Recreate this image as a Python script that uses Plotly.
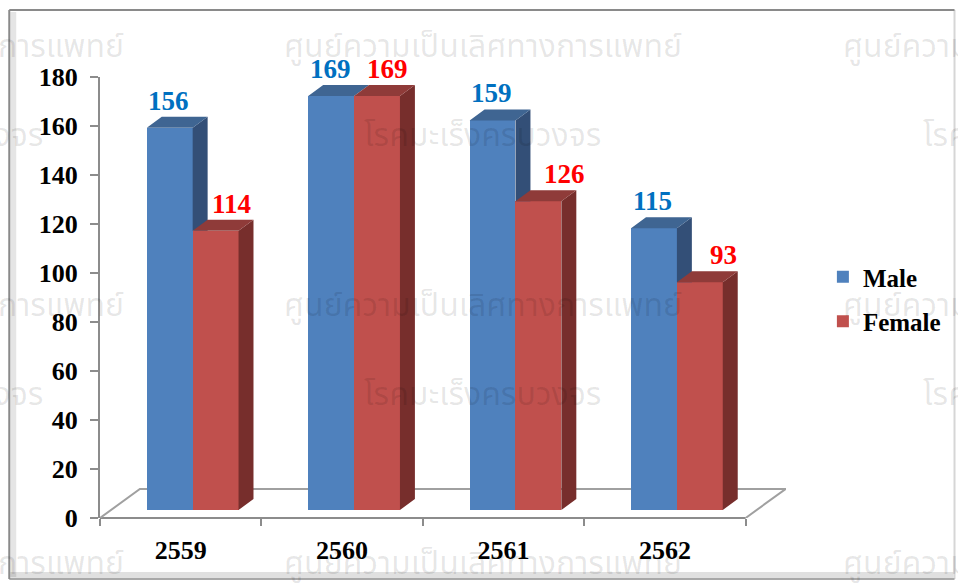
import plotly.graph_objects as go

# ---- data -------------------------------------------------------------
years = ["2559", "2560", "2561", "2562"]
male = [156, 169, 159, 115]
female = [114, 169, 126, 93]
series_names = ["Male", "Female"]
y_ticks = [0, 20, 40, 60, 80, 100, 120, 140, 160, 180]
watermark_line1 = "ศูนย์ความเป็นเลิศทางการแพทย์"
watermark_line2 = "โรคมะเร็งครบวงจร"

# ---- geometry -----------------------------------------------------------
W, H = 958, 583
L, R, T, B = 100, 788, 77, 518          # plot area in pixels
X0, X1 = -0.5, 3.75                     # extra room on the right for the floor depth
Y0, Y1 = 0, 180
UX = (R - L) / (X1 - X0)                # pixels per x unit
UY = (B - T) / (Y1 - Y0)                # pixels per y unit

BAR_W = 46 / UX
SHIFT = 12 / UX                          # bars sit slightly back/right on the floor
LIFT = 8 / UY
DX, DY = 15 / UX, 11 / UY                # bar depth
FLOOR_DX, FLOOR_DY = 40 / UX, 29 / UY    # floor depth

GREY = "#8c8c8c"
SERIF = "Liberation Serif, Times New Roman, serif"
THAI = "Noto Sans Thai, Noto Sans Thai Looped, Loma, Garuda, Tlwg Typo, Tahoma, sans-serif"

FRONT = {"Male": "#4F81BD", "Female": "#C0504D"}
TOP = {"Male": "#3F6592", "Female": "#8F3B39"}
SIDE = {"Male": "#334F77", "Female": "#772E2C"}
LABEL = {"Male": "#0070C0", "Female": "#FF0000"}
LABEL_XSHIFT = {"Male": [-1, -1, -1, -1], "Female": [16, 10, 26, 24]}


def fx(px):
    return (px - L) / (R - L)


def fy(py):
    return (B - py) / (B - T)


xs = list(range(len(years)))
values = {"Male": male, "Female": female}
left_edge = {"Male": SHIFT - BAR_W, "Female": SHIFT}

fig = go.Figure()

# front faces
for name in series_names:
    fig.add_trace(go.Bar(
        x=xs, y=values[name], base=LIFT, width=BAR_W, offset=left_edge[name],
        marker=dict(color=FRONT[name], line=dict(width=0)),
        name=name, legendgroup=name, hoverinfo="skip",
    ))


def poly_trace(px, py, color):
    return go.Scatter(x=px, y=py, mode="lines", fill="toself", fillcolor=color,
                      line=dict(width=0, color=color), showlegend=False, hoverinfo="skip")


# male side faces: only the part rising above the female bar in front of it
sx, sy = [], []
for i, (m, f) in enumerate(zip(male, female)):
    if m <= f:
        continue
    xr = i + left_edge["Male"] + BAR_W
    sx += [xr, xr + DX, xr + DX, xr, xr, None]
    sy += [LIFT + f, LIFT + f, LIFT + m + DY, LIFT + m, LIFT + f, None]
fig.add_trace(poly_trace(sx, sy, SIDE["Male"]))


def top_faces(name):
    tx, ty = [], []
    for i, v in enumerate(values[name]):
        xl = i + left_edge[name]
        xr = xl + BAR_W
        yt = LIFT + v
        tx += [xl, xr, xr + DX, xl + DX, xl, None]
        ty += [yt, yt, yt + DY, yt + DY, yt, None]
    return tx, ty


tx, ty = top_faces("Male")
fig.add_trace(poly_trace(tx, ty, TOP["Male"]))

# female side faces
sx, sy = [], []
for i, f in enumerate(female):
    xr = i + left_edge["Female"] + BAR_W
    sx += [xr, xr + DX, xr + DX, xr, xr, None]
    sy += [LIFT, LIFT + DY, LIFT + f + DY, LIFT + f, LIFT, None]
fig.add_trace(poly_trace(sx, sy, SIDE["Female"]))

tx, ty = top_faces("Female")
fig.add_trace(poly_trace(tx, ty, TOP["Female"]))

annotations = []

# value labels above each bar
for name in series_names:
    for i, v in enumerate(values[name]):
        annotations.append(dict(
            x=i + left_edge[name] + BAR_W / 2, y=LIFT + v + DY, xref="x", yref="y",
            text=str(v), showarrow=False, xanchor="center", yanchor="middle",
            xshift=LABEL_XSHIFT[name][i], yshift=16,
            font=dict(family=SERIF, size=27, color=LABEL[name], weight="bold"),
        ))

# watermark tiles
for yc in (47, 306, 564):
    for xs0 in (-277, 283, 843):
        annotations.append(dict(
            x=fx(xs0), y=fy(yc), xref="paper", yref="paper", text=watermark_line1,
            showarrow=False, xanchor="left", yanchor="middle",
            font=dict(family=THAI, size=32, color="rgba(0,0,0,0.10)"),
        ))
for yc in (136, 395):
    for xs0 in (-197, 363, 923):
        annotations.append(dict(
            x=fx(xs0), y=fy(yc), xref="paper", yref="paper", text=watermark_line2,
            showarrow=False, xanchor="left", yanchor="middle",
            font=dict(family=THAI, size=32, color="rgba(0,0,0,0.10)"),
        ))

shapes = [
    # floor outline
    dict(type="path", xref="x", yref="y", layer="below",
         path=f"M {X0},0 L {X0 + FLOOR_DX},{FLOOR_DY} L {3.5 + FLOOR_DX},{FLOOR_DY} L 3.5,0",
         line=dict(color="#a0a0a0", width=2)),
    # category axis baseline
    dict(type="line", xref="paper", yref="paper", x0=0, x1=(3.5 - X0) / (X1 - X0), y0=0, y1=0,
         line=dict(color=GREY, width=2), layer="below"),
    # chart frame: soft inner shadow, dark top/left edges, faint right edge
    dict(type="line", xref="paper", yref="paper", x0=fx(13), x1=fx(13), y0=fy(12), y1=fy(577),
         line=dict(color="rgba(0,0,0,0.10)", width=6), layer="below"),
    dict(type="line", xref="paper", yref="paper", x0=fx(10), x1=fx(956), y0=fy(575), y1=fy(575),
         line=dict(color="rgba(0,0,0,0.12)", width=6), layer="below"),
    dict(type="line", xref="paper", yref="paper", x0=fx(957), x1=fx(957), y0=fy(10), y1=fy(579),
         line=dict(color="#d6d6d6", width=2), layer="below"),
    dict(type="line", xref="paper", yref="paper", x0=fx(9), x1=fx(957), y0=fy(579), y1=fy(579),
         line=dict(color="#a8a8a8", width=2), layer="below"),
    dict(type="line", xref="paper", yref="paper", x0=fx(9), x1=fx(957), y0=fy(10), y1=fy(10),
         line=dict(color="#8a8a8a", width=2), layer="below"),
    dict(type="line", xref="paper", yref="paper", x0=fx(9), x1=fx(9), y0=fy(10), y1=fy(579),
         line=dict(color="#8a8a8a", width=2), layer="below"),
]

fig.update_layout(
    width=W, height=H,
    margin=dict(l=L, r=W - R, t=T, b=H - B, pad=0),
    paper_bgcolor="white", plot_bgcolor="rgba(0,0,0,0)",
    barmode="overlay", bargap=0,
    showlegend=True,
    legend=dict(x=fx(825), y=fy(254), xanchor="left", yanchor="top",
                font=dict(family=SERIF, size=25, color="black", weight="bold"),
                bgcolor="rgba(0,0,0,0)", traceorder="grouped", tracegroupgap=9),
    xaxis=dict(range=[X0, X1], showline=False, showgrid=False, zeroline=False,
               tickmode="array", tickvals=xs, ticktext=years, ticks="",
               ticklabelstandoff=14,
               tickfont=dict(family=SERIF, size=26, color="black", weight="bold"),
               minor=dict(tickmode="array", tickvals=[-0.5, 0.5, 1.5, 2.5, 3.5], ticks="outside",
                          ticklen=7, tickwidth=2, tickcolor=GREY, showgrid=False)),
    yaxis=dict(range=[Y0, Y1], showline=True, linecolor=GREY, linewidth=2, showgrid=False,
               zeroline=False, tickmode="array", tickvals=y_ticks, ticks="outside",
               ticklen=8, tickwidth=2, tickcolor=GREY, ticklabelstandoff=7,
               tickfont=dict(family=SERIF, size=26, color="black", weight="bold")),
    annotations=annotations,
    shapes=shapes,
)

fig.write_html("out.html")
